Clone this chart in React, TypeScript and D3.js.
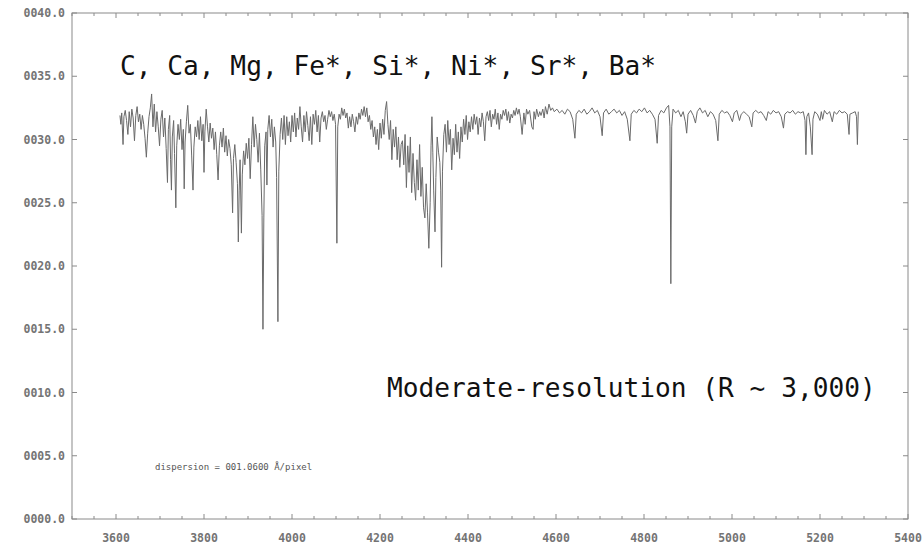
import * as d3 from 'd3';
import React from 'react';

// spectrum, [wavelength (A), flux]
const blueSpectrum: [number, number][] = [
  [3609, 31.9], [3611, 31.2], [3613, 32.1], [3616, 29.6], [3618, 31.8], [3621, 32.3], [3624, 31.5],
  [3627, 30.4], [3630, 32.2], [3633, 31.0], [3636, 32.4], [3639, 31.7], [3642, 29.9], [3645, 31.9],
  [3648, 32.6], [3651, 31.4], [3654, 32.0], [3657, 30.8], [3660, 31.9], [3663, 31.2], [3666, 30.1],
  [3669, 28.6], [3672, 30.5], [3675, 31.8], [3678, 32.5], [3681, 33.6], [3684, 31.0], [3687, 32.8],
  [3690, 30.6], [3693, 32.2], [3696, 31.0], [3699, 29.5], [3702, 31.6], [3705, 32.3], [3708, 30.2],
  [3711, 31.7], [3714, 29.3], [3717, 26.6], [3719, 30.8], [3722, 31.9], [3724, 28.4], [3726, 26.0],
  [3728, 30.2], [3731, 31.5], [3733, 28.9], [3736, 24.6], [3738, 29.5], [3741, 31.2], [3744, 30.0],
  [3747, 31.6], [3750, 29.2], [3753, 30.8], [3755, 26.1], [3757, 29.8], [3760, 31.4], [3763, 32.7],
  [3766, 30.5], [3769, 31.2], [3772, 28.7], [3775, 26.0], [3777, 29.4], [3780, 31.0], [3783, 30.2],
  [3786, 31.5], [3789, 30.0], [3792, 31.8], [3795, 29.9], [3798, 31.2], [3800, 27.4], [3802, 30.6],
  [3805, 32.4], [3808, 31.0], [3811, 29.8], [3814, 31.3], [3817, 30.1], [3820, 30.9], [3823, 29.2],
  [3826, 30.6], [3829, 28.8], [3832, 26.8], [3835, 29.5], [3838, 30.6], [3841, 29.4], [3844, 30.9],
  [3847, 29.0], [3850, 30.3], [3853, 28.7], [3856, 30.0], [3859, 29.3], [3862, 28.0], [3865, 24.2],
  [3867, 28.5], [3870, 29.6], [3873, 28.2], [3876, 26.5], [3878, 21.9], [3880, 26.0], [3882, 28.4],
  [3885, 22.6], [3887, 27.2], [3890, 29.1], [3893, 28.0], [3896, 29.7], [3899, 28.5], [3902, 30.1],
  [3905, 26.9], [3908, 29.6], [3911, 31.8], [3914, 29.4], [3917, 31.2], [3920, 30.0], [3923, 28.2],
  [3926, 30.5], [3929, 27.6], [3932, 24.0], [3934, 15.0], [3936, 23.8], [3938, 29.5], [3941, 30.6],
  [3943, 26.4], [3945, 30.8], [3948, 31.9], [3951, 30.2], [3954, 31.6], [3957, 29.4], [3960, 31.0],
  [3963, 29.8], [3965, 27.0], [3968, 15.6], [3970, 27.5], [3973, 30.4], [3976, 31.7], [3979, 30.0],
  [3982, 31.9], [3985, 29.6], [3988, 31.8], [3991, 30.3], [3994, 31.4], [3997, 29.8],
];

const midSpectrum: [number, number][] = [
  [4000, 31.9], [4003, 30.6], [4006, 32.1], [4009, 30.2], [4012, 31.7], [4015, 30.8], [4018, 32.6],
  [4021, 31.0], [4024, 29.8], [4027, 31.9], [4030, 30.6], [4033, 32.2], [4036, 31.1], [4039, 29.9],
  [4042, 31.8], [4045, 29.6], [4048, 32.0], [4051, 31.2], [4054, 32.3], [4057, 30.6], [4060, 31.9],
  [4063, 29.8], [4066, 31.7], [4069, 32.2], [4072, 31.4], [4075, 31.9], [4078, 30.8], [4081, 31.6],
  [4084, 32.3], [4087, 31.8], [4090, 32.2], [4093, 31.5], [4096, 32.0], [4099, 31.2], [4102, 21.8],
  [4104, 31.0], [4107, 32.0], [4110, 31.6], [4113, 32.5], [4116, 31.9], [4119, 32.4], [4122, 31.7],
  [4125, 32.1], [4128, 30.9], [4131, 31.8], [4134, 31.0], [4137, 32.0], [4140, 31.4], [4143, 30.6],
  [4146, 31.8], [4149, 31.2], [4152, 32.1], [4155, 31.6], [4158, 32.4], [4161, 31.9], [4164, 32.6],
  [4167, 31.8], [4170, 32.5], [4173, 31.4], [4176, 31.9], [4179, 30.8], [4182, 31.5], [4185, 30.2],
  [4188, 31.0], [4191, 29.6], [4194, 30.8], [4197, 29.2], [4200, 31.3], [4203, 30.1], [4206, 31.6],
  [4209, 30.4], [4212, 32.3], [4215, 33.0], [4218, 31.2], [4221, 30.0], [4224, 31.5], [4227, 28.4],
  [4230, 30.8], [4233, 29.4], [4236, 31.0], [4239, 28.4], [4242, 30.2], [4245, 27.8], [4248, 29.6],
  [4251, 29.9], [4254, 28.0], [4257, 30.4], [4260, 26.2], [4263, 29.5], [4266, 27.4], [4269, 30.2],
  [4272, 25.8], [4275, 28.9], [4278, 26.6], [4281, 25.2], [4284, 28.4], [4287, 26.0], [4290, 29.6],
  [4293, 25.5], [4296, 27.8], [4299, 24.6], [4302, 23.8], [4305, 26.5], [4308, 24.2], [4311, 21.4],
  [4314, 25.0], [4316, 29.5], [4318, 31.8], [4320, 29.0], [4322, 26.0], [4325, 22.7], [4327, 27.0],
  [4330, 30.2], [4333, 29.0], [4336, 28.2], [4338, 26.0], [4340, 19.9], [4342, 27.5], [4345, 30.4],
  [4348, 31.2], [4351, 29.0], [4354, 31.5], [4357, 29.6], [4360, 30.8], [4363, 27.6], [4366, 30.1],
  [4369, 28.8], [4372, 31.2], [4375, 29.0], [4378, 30.6], [4381, 28.5], [4384, 31.0], [4387, 29.8],
  [4390, 31.6], [4393, 30.4], [4396, 31.9], [4399, 30.0], [4402, 31.4], [4405, 30.6], [4408, 31.8],
  [4411, 30.8], [4414, 32.0], [4417, 31.2], [4420, 31.8], [4423, 30.4], [4426, 31.7], [4429, 31.0],
  [4432, 32.1], [4435, 31.4], [4438, 29.9], [4441, 31.8], [4444, 32.2], [4447, 31.5], [4450, 32.3],
  [4453, 31.0], [4456, 32.0], [4459, 31.6], [4462, 32.4], [4465, 31.2], [4468, 32.1], [4471, 30.8],
  [4474, 32.0], [4477, 31.6], [4480, 32.3], [4483, 31.9], [4486, 32.4], [4489, 31.5], [4492, 32.2],
  [4495, 31.3], [4498, 32.0], [4501, 31.7], [4504, 32.3], [4507, 31.9], [4510, 32.5], [4513, 32.0],
  [4516, 32.4], [4519, 31.8], [4523, 30.4], [4527, 32.1], [4530, 31.2], [4533, 32.4], [4536, 32.0],
  [4540, 32.3], [4545, 31.0], [4548, 30.8], [4550, 32.2], [4553, 31.6], [4556, 32.4], [4560, 31.8],
  [4563, 32.2], [4566, 31.9], [4570, 32.4], [4573, 31.7], [4576, 32.6], [4580, 32.0], [4584, 32.8],
  [4588, 32.3], [4592, 32.5],
];

const redSpectrum: [number, number][] = [
  [4596, 32.2], [4602, 32.4], [4608, 32.1], [4614, 32.3], [4620, 32.0], [4626, 32.4], [4632, 32.2],
  [4638, 31.6], [4643, 30.1], [4646, 32.0], [4652, 32.3], [4658, 32.1], [4664, 32.4], [4670, 32.0],
  [4676, 32.2], [4682, 32.5], [4688, 32.1], [4694, 32.3], [4700, 31.8], [4705, 30.3], [4708, 32.1],
  [4714, 32.4], [4720, 32.0], [4726, 32.2], [4732, 32.4], [4738, 32.1], [4744, 32.3], [4750, 31.9],
  [4756, 32.2], [4762, 31.6], [4768, 29.9], [4771, 32.0], [4777, 32.3], [4783, 32.1], [4789, 32.4],
  [4795, 32.2], [4801, 32.5], [4807, 32.1], [4813, 32.3], [4819, 32.0], [4825, 31.6], [4830, 29.7],
  [4833, 31.9], [4839, 32.3], [4845, 32.1], [4851, 32.5], [4856, 32.7], [4859, 31.0], [4861, 18.6],
  [4863, 31.0], [4866, 32.4], [4872, 32.1], [4878, 32.3], [4884, 31.8], [4889, 32.2], [4894, 31.4],
  [4897, 30.5], [4900, 32.0], [4906, 32.3], [4912, 31.9], [4917, 31.3], [4921, 32.2], [4927, 32.5],
  [4933, 32.1], [4939, 32.3], [4945, 31.8], [4951, 32.2], [4957, 32.0], [4963, 31.5], [4968, 29.9],
  [4971, 32.0], [4977, 32.3], [4983, 32.1], [4989, 32.2], [4995, 31.9], [5001, 31.4], [5005, 32.1],
  [5011, 32.3], [5017, 31.5], [5021, 32.0], [5027, 32.2], [5033, 32.0], [5039, 31.8], [5045, 31.0],
  [5048, 32.1], [5054, 32.3], [5060, 32.1], [5066, 32.2], [5072, 31.9], [5078, 31.5], [5082, 32.2],
  [5088, 32.0], [5094, 32.3], [5100, 32.1], [5106, 32.2], [5112, 31.8], [5117, 30.9], [5120, 32.0],
  [5126, 32.2], [5132, 32.1], [5138, 32.3], [5144, 32.0], [5150, 32.2], [5156, 32.1], [5162, 32.2],
  [5166, 31.5], [5168, 28.8], [5170, 31.8], [5174, 32.1], [5178, 31.0], [5182, 28.8], [5184, 31.6],
  [5188, 32.2], [5194, 32.0], [5200, 31.5], [5203, 32.2], [5206, 31.6], [5210, 32.3], [5216, 32.0],
  [5222, 32.2], [5228, 31.4], [5232, 32.2], [5238, 32.0], [5244, 32.3], [5250, 32.1], [5256, 32.2],
  [5262, 32.0], [5266, 30.4], [5268, 32.0], [5274, 32.1], [5280, 32.2], [5283, 31.8], [5285, 29.6],
  [5287, 32.2],
];

const xMajorTicks = [3600, 3800, 4000, 4200, 4400, 4600, 4800, 5000, 5200, 5400];
const yMajorTicks = [0, 5, 10, 15, 20, 25, 30, 35, 40];
const elementsLabel = 'C, Ca, Mg, Fe*, Si*, Ni*, Sr*, Ba*';
const resolutionLabel = 'Moderate-resolution (R ~ 3,000)';
const dispersionLabel = 'dispersion = 001.0600 \u00c5/pixel';

const params = {
  width: 922,
  height: 544,
  left: 72,
  right: 908,
  top: 13,
  bottom: 519,
};

export default function App() {
  const x = d3.scaleLinear().domain([3500, 5400]).range([params.left, params.right]);
  const y = d3.scaleLinear().domain([0, 40]).range([params.bottom, params.top]);
  const minorX = d3.range(3500, 5401, 50);
  const fmt = d3.format('06.1f');

  const line = d3.line<[number, number]>()
    .x(d => x(d[0]))
    .y(d => y(d[1]));
  const spectrum = [...blueSpectrum, ...midSpectrum, ...redSpectrum];

  const axisColor = '#8a8a8a';
  const labelStyle = { fontFamily: '"DejaVu Sans Mono", monospace', fontSize: 11.5, fontWeight: 700, fill: '#747474' };
  const bigText = { fontFamily: '"DejaVu Sans Mono", monospace', fontSize: 26.2, fill: '#111' };

  return (
    <svg width={params.width} height={params.height}
      style={{ position: 'absolute', left: 0, top: 0, background: '#fff' }}>
      <rect x={params.left} y={params.top} width={params.right - params.left}
        height={params.bottom - params.top} fill="none" stroke={axisColor} strokeWidth={1} />
      <g id="xticks">
        {minorX.map(v => {
          const len = xMajorTicks.includes(v) ? 5 : 3;
          return (
            <g key={v}>
              <line x1={x(v)} x2={x(v)} y1={params.bottom} y2={params.bottom - len} stroke={axisColor} />
              <line x1={x(v)} x2={x(v)} y1={params.top} y2={params.top + len} stroke={axisColor} />
            </g>
          );
        })}
        {xMajorTicks.map(v => (
          <text key={v} x={x(v)} y={542} textAnchor="middle" style={labelStyle}>{v}</text>
        ))}
      </g>
      <g id="yticks">
        {yMajorTicks.map(v => (
          <g key={v}>
            <line x1={params.left} x2={params.left + 5} y1={y(v)} y2={y(v)} stroke={axisColor} />
            <line x1={params.right} x2={params.right - 5} y1={y(v)} y2={y(v)} stroke={axisColor} />
            <text x={65} y={y(v) + 4} textAnchor="end" style={labelStyle}>{fmt(v)}</text>
          </g>
        ))}
      </g>
      <path d={line(spectrum) || ''} fill="none" stroke="#6a6a6a" strokeWidth={1} strokeLinejoin="round" />
      <text x={120} y={75} style={bigText}>{elementsLabel}</text>
      <text x={387} y={397} style={bigText}>{resolutionLabel}</text>
      <text x={155} y={470} style={{ fontFamily: '"DejaVu Sans Mono", monospace', fontSize: 9, fill: '#555' }}>
        {dispersionLabel}
      </text>
    </svg>
  );
}
